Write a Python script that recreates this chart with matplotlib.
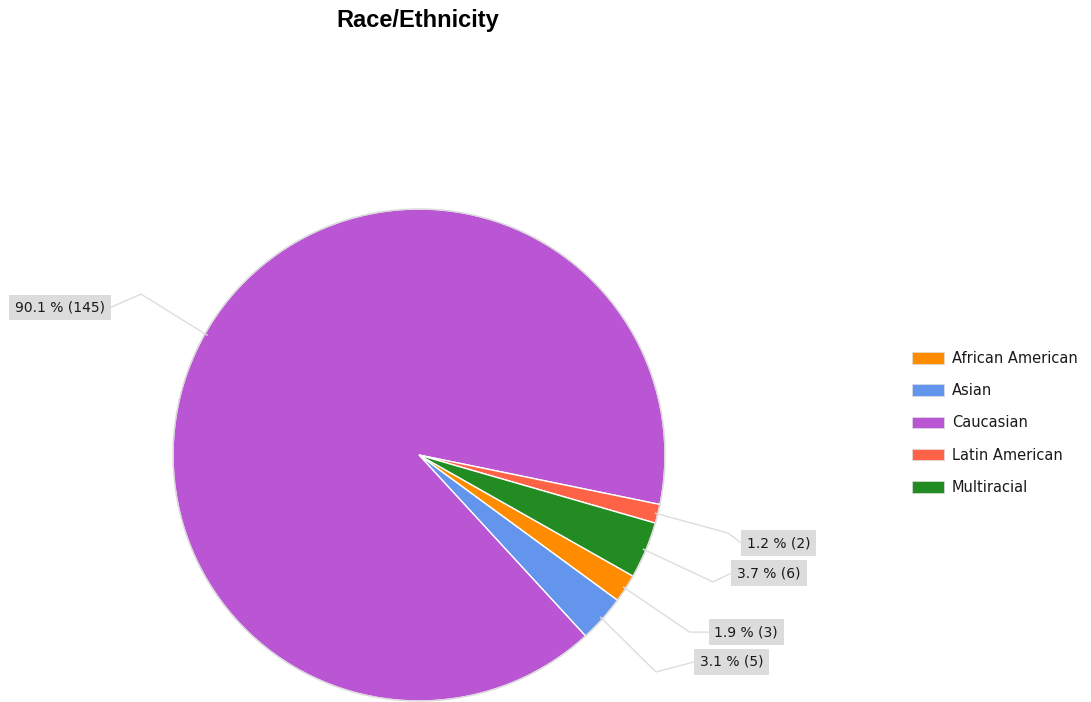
import numpy as np
import matplotlib
matplotlib.use("Agg")
import matplotlib.pyplot as plt
from matplotlib.patches import Circle, Patch

categories = ["African American", "Asian", "Caucasian", "Latin American", "Multiracial"]
counts = [3, 5, 145, 2, 6]
colors = ["#FF8C00", "#6495ED", "#BA55D3", "#FF6347", "#228B22"]

# label layout (units of pie radius): (elbow, box center)
label_layout = {
    "African American": ((1.10, -0.72), (1.33, -0.72)),
    "Asian": ((0.963, -0.882), (1.272, -0.841)),
    "Caucasian": ((-1.13, 0.654), (-1.46, 0.60)),
    "Latin American": ((1.256, -0.317), (1.463, -0.358)),
    "Multiracial": ((1.195, -0.516), (1.423, -0.48)),
}

W, H = 1091, 702
fig = plt.figure(figsize=(W / 100, H / 100), dpi=100)
ax = fig.add_axes([0, 0, 1, 1])
cx, cy, R = 419, 455, 246

wedges, _ = ax.pie(counts, colors=colors, startangle=-29.5, counterclock=False,
                   radius=1.0, center=(0, 0), frame=True,
                   wedgeprops=dict(edgecolor="white", linewidth=1.0))
ax.set_xlim(-cx / R, (W - cx) / R)
ax.set_ylim(-(H - cy) / R, cy / R)
ax.set_aspect("equal")
ax.axis("off")
ax.add_patch(Circle((0, 0), 1.0, fill=False, edgecolor="#d8d8d8", linewidth=1.0, zorder=5))

total = sum(counts)
fig.canvas.draw()
renderer = fig.canvas.get_renderer()
for w, cat, n in zip(wedges, categories, counts):
    mid = np.deg2rad((w.theta1 + w.theta2) / 2)
    ex, ey = np.cos(mid) * 0.99, np.sin(mid) * 0.99
    (elx, ely), (bx, by) = label_layout[cat]
    txt = f"{100 * n / total:.1f} % ({n})"
    t = ax.text(bx, by, txt, ha="center", va="center", fontsize=10,
                family="DejaVu Sans", color="#1a1a1a",
                bbox=dict(boxstyle="square,pad=0.42", facecolor="#DCDCDC", edgecolor="none"),
                zorder=6)
    fig.canvas.draw()
    bp = t.get_bbox_patch().get_window_extent(renderer=renderer).transformed(ax.transData.inverted())
    sx = bp.x0 if bx > elx else bp.x1
    ax.plot([ex, elx, sx], [ey, ely, by], color="#dddddd", linewidth=1.0, zorder=4)

fig.text(418 / W, 1 - 20 / H, "Race/Ethnicity", ha="center", va="center",
         fontsize=17, fontweight="bold", family="Liberation Sans")

handles = [Patch(facecolor=c, edgecolor="#dddddd", linewidth=0.5) for c in colors]
fig.legend(handles, categories, loc="upper left", bbox_to_anchor=(912 / W, 1 - 351 / H),
           frameon=False, handlelength=2.2, handleheight=0.85,
           labelspacing=1.18, handletextpad=0.55, borderpad=0, borderaxespad=0,
           labelcolor="#1a1a1a",
           prop=dict(family="DejaVu Sans", size=10.5))

fig.savefig("out.png", dpi=100)
